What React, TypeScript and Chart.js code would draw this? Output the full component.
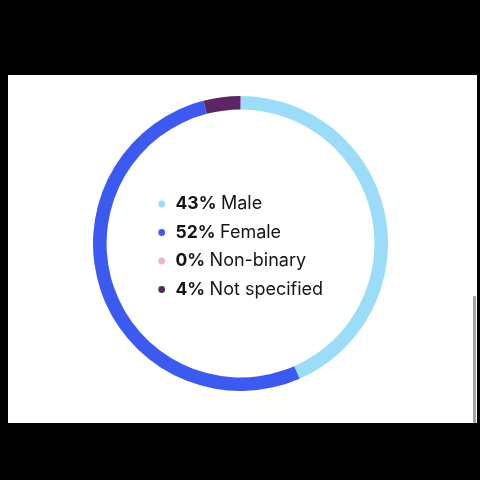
import React, { useEffect, useRef } from "react";
import { Chart, registerables } from "chart.js";

Chart.register(...registerables);

const categories = ["Male", "Female", "Non-binary", "Not specified"];
const values = [43, 52, 0, 4];
const percentLabels = ["43%", "52%", "0%", "4%"];
const colors = ["#9bdcf8", "#3c5af0", "#f1b6c4", "#5c2664"];

const centerLegend = {
  id: "centerLegend",
  afterDraw(chart: any) {
    const meta = chart.getDatasetMeta(0);
    const arc = meta.data[0];
    if (!arc) return;
    const cx = arc.x;
    const cy = arc.y;
    const ctx = chart.ctx;
    const rowOffsets = [-39.5, -11, 17.5, 46];
    ctx.save();
    ctx.textBaseline = "middle";
    categories.forEach((cat, i) => {
      const y = cy + rowOffsets[i];
      ctx.fillStyle = colors[i];
      ctx.beginPath();
      ctx.arc(cx - 78.8, y, 3.4, 0, Math.PI * 2);
      ctx.fill();
      ctx.fillStyle = "#141414";
      ctx.font = "700 17.5px Inter";
      const px = cx - 65;
      ctx.fillText(percentLabels[i], px, y);
      const w = ctx.measureText(percentLabels[i]).width;
      ctx.font = "400 18px Inter";
      ctx.fillText(cat, px + w + 4.5, y);
    });
    ctx.restore();
  },
};

export default function App() {
  const ref = useRef<HTMLCanvasElement>(null);
  useEffect(() => {
    if (!ref.current) return;
    const chart = new Chart(ref.current, {
      type: "doughnut",
      data: {
        labels: categories,
        datasets: [
          {
            data: values,
            backgroundColor: colors,
            borderWidth: 0,
            hoverOffset: 0,
          },
        ],
      },
      options: {
        responsive: false,
        maintainAspectRatio: false,
        animation: false,
        cutout: "90.8%",
        layout: { padding: 0 },
        plugins: {
          legend: { display: false },
          tooltip: { enabled: false },
        },
      },
      plugins: [centerLegend],
    });
    return () => chart.destroy();
  }, []);

  return (
    <div style={{ position: "fixed", inset: 0, background: "#000" }}>
      <div
        style={{
          position: "absolute",
          left: 8,
          top: 75,
          width: 469,
          height: 348,
          background: "#fff",
        }}
      />
      <div
        style={{
          position: "absolute",
          left: 473,
          top: 296,
          width: 3,
          height: 127,
          background: "#a3a3a3",
          borderRadius: 1,
        }}
      />
      <canvas
        ref={ref}
        width={295}
        height={295}
        style={{ position: "absolute", left: 93, top: 96, width: 295, height: 295 }}
      />
    </div>
  );
}
